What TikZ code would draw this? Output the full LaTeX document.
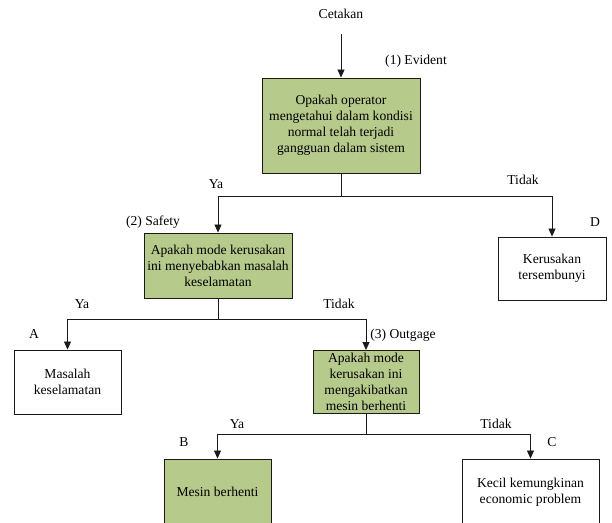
\documentclass[tikz,border=0pt]{standalone}
\usepackage{fontspec}
\setmainfont{Liberation Serif}
\usetikzlibrary{arrows.meta,positioning}
\definecolor{chijau}{HTML}{B6CA8C}
\definecolor{cgaris}{HTML}{1A1A1A}
\tikzset{
  kotak/.style={draw=cgaris,line width=0.9pt,align=center,inner sep=2pt,
                font=\fontsize{13.6}{16}\selectfont},
  kotakh/.style={kotak,fill=chijau},
  panah/.style={-{Triangle[length=8pt,width=7pt]},draw=cgaris,line width=0.8pt},
  garis/.style={draw=cgaris,line width=0.8pt},
  ket/.style={font=\fontsize{13.6}{16}\selectfont,inner sep=0pt,
              text height=9pt,text depth=3pt},
}

\begin{document}
\begin{tikzpicture}[x=1pt,y=-1pt]
\useasboundingbox (0,0) rectangle (612,522);

% ---------------- pertanyaan 1: evident ----------------
\node[ket] (cetak) at (341,15) {Cetakan};
\node[kotakh,minimum width=158pt,minimum height=95pt] (q1) at (341,125.5)
  {Opakah operator\\mengetahui dalam kondisi\\normal telah terjadi\\gangguan dalam sistem};
\node[ket] (l1) at (416,61) {(1) Evident};
\draw[panah,shorten <=13pt] (cetak) -- (q1);

% ---------------- pertanyaan 2: safety ----------------
\node[kotakh,minimum width=148pt,minimum height=65pt] (q2) at (218,265.5)
  {Apakah mode kerusakan\\ini menyebabkan masalah\\keselamatan};
\node[kotak,minimum width=108pt,minimum height=63pt] (d) at (552,268.5)
  {Kerusakan\\tersembunyi};
\node[ket] (l2) at (153,222) {(2) Safety};
\node[ket] (ld) at (595,223) {D};

\coordinate (j1) at (341,196);
\draw[garis] (q1) -- (j1);
\draw[panah] (j1) -| (q2);
\draw[panah] (j1) -| (d);
\node[ket] at (216,185) {Ya};
\node[ket] at (523,181) {Tidak};

% ---------------- pertanyaan 3: outgage ----------------
\node[kotak,minimum width=107pt,minimum height=64pt] (a) at (67.5,382)
  {Masalah\\keselamatan};
\node[kotakh,minimum width=106pt,minimum height=63pt] (q3) at (366,382)
  {Apakah mode\\kerusakan ini\\mengakibatkan\\mesin berhenti};
\node[ket] (la) at (34,335) {A};
\node[ket] (l3) at (403,335) {(3) Outgage};

\coordinate (j2) at (218,319);
\draw[garis] (q2) -- (j2);
\draw[panah] (j2) -| (a);
\draw[panah] (j2) -| (q3);
\node[ket] at (82,305) {Ya};
\node[ket] at (339,305) {Tidak};

% ---------------- hasil akhir ----------------
\node[kotakh,minimum width=107pt,minimum height=66pt] (b) at (217.5,492)
  {Mesin berhenti};
\node[kotak,minimum width=137pt,minimum height=66pt] (c) at (530.5,492)
  {Kecil kemungkinan\\economic problem};
\node[ket] (lb) at (184,443) {B};
\node[ket] (lc) at (552,443) {C};

\coordinate (j3) at (366,434);
\draw[garis] (q3) -- (j3);
\draw[panah] (j3) -| (b);
\draw[panah] (j3) -| (c);
\node[ket] at (237,425) {Ya};
\node[ket] at (496,425) {Tidak};

\end{tikzpicture}
\end{document}
